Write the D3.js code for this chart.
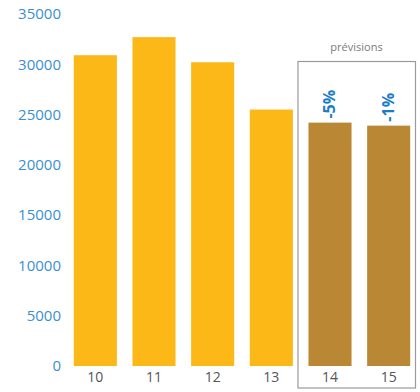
<!DOCTYPE html>
<html>
<head>
<meta charset="utf-8">
<script src="https://cdn.jsdelivr.net/npm/d3@7"></script>
<style>
  html, body { margin: 0; padding: 0; background: #fff; }
  svg { display: block; font-family: "Open Sans", "Noto Sans", sans-serif; }
</style>
</head>
<body>
<svg id="chart" width="420" height="392"></svg>
<script>
// Years (last two digits) and yearly totals; 14 and 15 are forecasts
const years = ["10", "11", "12", "13", "14", "15"];
const totals = [30900, 32700, 30200, 25500, 24200, 23900];
const forecast = [false, false, false, false, true, true];
const changeLabels = ["", "", "", "", "-5%", "-1%"];
const yTicks = [0, 5000, 10000, 15000, 20000, 25000, 30000, 35000];
const forecastTitle = "prévisions";

const svg = d3.select("#chart");

const x = d3.scaleBand()
  .domain(years)
  .range([66, 418])
  .paddingInner(0.266)
  .paddingOuter(0.133);

const y = d3.scaleLinear()
  .domain([0, 35000])
  .range([366, 14]);

// Frame around the forecast years
const fx0 = x("14") - 11;
svg.append("rect")
  .attr("x", fx0 + 0.5)
  .attr("y", 61.5)
  .attr("width", 415.5 - fx0 - 0.5)
  .attr("height", 388 - 61.5)
  .attr("fill", "none")
  .attr("stroke", "#9a9a9a")
  .attr("stroke-width", 1.2);

svg.append("text")
  .attr("x", (fx0 + 415.5) / 2)
  .attr("y", 51)
  .attr("text-anchor", "middle")
  .attr("font-size", 11)
  .attr("fill", "#7a7a7a")
  .text(forecastTitle);

// Bars
svg.append("g").selectAll("rect")
  .data(years)
  .join("rect")
  .attr("x", d => x(d))
  .attr("width", x.bandwidth())
  .attr("y", (d, i) => y(totals[i]))
  .attr("height", (d, i) => y(0) - y(totals[i]))
  .attr("fill", (d, i) => forecast[i] ? "#BA8734" : "#FBB817");

// Percentage change labels, rotated above forecast bars
svg.append("g").selectAll("text")
  .data(years.filter((d, i) => changeLabels[i]))
  .join("text")
  .attr("transform", d => {
    const i = years.indexOf(d);
    return `translate(${x(d) + x.bandwidth() / 2 + 5},${y(totals[i]) - 4}) rotate(-90)`;
  })
  .attr("font-size", 16)
  .attr("font-weight", "bold")
  .attr("fill", "#1B7CC6")
  .text(d => changeLabels[years.indexOf(d)]);

// Y axis
const yAxis = svg.append("g")
  .attr("transform", "translate(61,0)")
  .call(d3.axisLeft(y).tickValues(yTicks).tickSize(0).tickPadding(0).tickFormat(d3.format("d")));
yAxis.select(".domain").remove();
yAxis.selectAll("text")
  .attr("font-family", "'Open Sans', 'Noto Sans', sans-serif")
  .attr("font-size", 15)
  .attr("fill", "#3A8FD3");

// X axis
const xAxis = svg.append("g")
  .attr("transform", "translate(0,366)")
  .call(d3.axisBottom(x).tickSize(0).tickPadding(6));
xAxis.select(".domain").remove();
xAxis.selectAll("text")
  .attr("font-family", "'Open Sans', 'Noto Sans', sans-serif")
  .attr("font-size", 14)
  .attr("fill", "#555");
</script>
</body>
</html>
